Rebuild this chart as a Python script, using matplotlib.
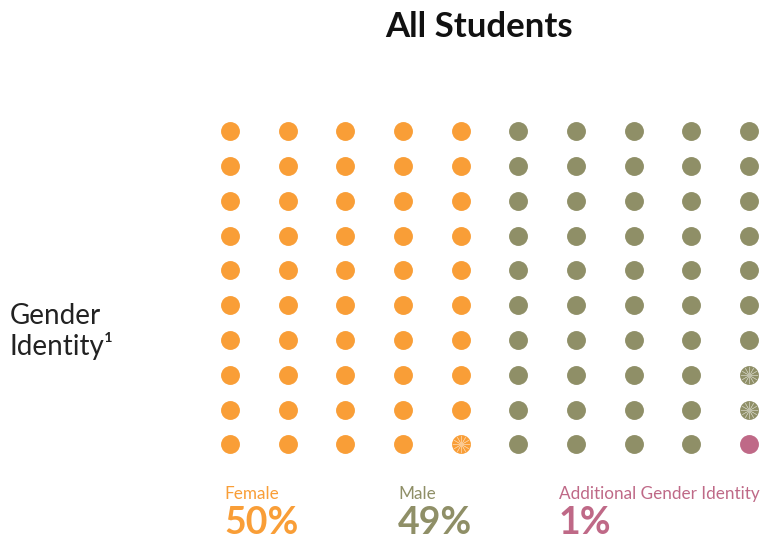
import numpy as np
import matplotlib
matplotlib.use('Agg')
import matplotlib.pyplot as plt

plt.rcParams['font.family'] = ['Lato', 'DejaVu Sans']

# data
groups = ['Female', 'Male', 'Additional Gender Identity']
counts = [50, 49, 1]
colors = ['#F99E37', '#8F8F67', '#BF6987']
# dots drawn with a starburst (row, col)
marked = [(9, 4), (7, 9), (8, 9)]
n_rows, n_cols = 10, 10

fig = plt.figure(figsize=(7.62, 5.40), dpi=100)
ax = fig.add_axes([0.264, 0.145, 0.757, 0.644])
ax.set_xlim(-0.5, 9.5)
ax.set_ylim(9.5, -0.5)
ax.axis('off')

# fill column by column, top to bottom
k = 0
for g, c in enumerate(counts):
    idx = np.arange(k, k + c)
    ax.scatter(idx // n_rows, idx % n_rows, s=185, color=colors[g], linewidths=0, zorder=2)
    k += c

for r, c in marked:
    ax.scatter([c], [r], s=150, marker=(12, 2, 0), color='white', linewidths=0.4, alpha=0.45, zorder=3)

fig.text(0.628, 0.950, 'All Students', ha='center', va='center', fontsize=25, fontweight='bold', color='#111111')
fig.text(0.013, 0.386, 'Gender\nIdentity\u00b9', ha='left', va='center', fontsize=20, linespacing=1.15, color='#222222')

lx = [224, 398, 559]
for g in range(len(groups)):
    fig.text(lx[g] / 762, 1 - 494 / 540, groups[g], ha='left', va='center', fontsize=12.3, color=colors[g])
    fig.text(lx[g] / 762, 1 - 523 / 540, '{:d}%'.format(counts[g]), ha='left', va='center', fontsize=27, fontweight='bold', color=colors[g])

fig.savefig('out.png', dpi=100)
